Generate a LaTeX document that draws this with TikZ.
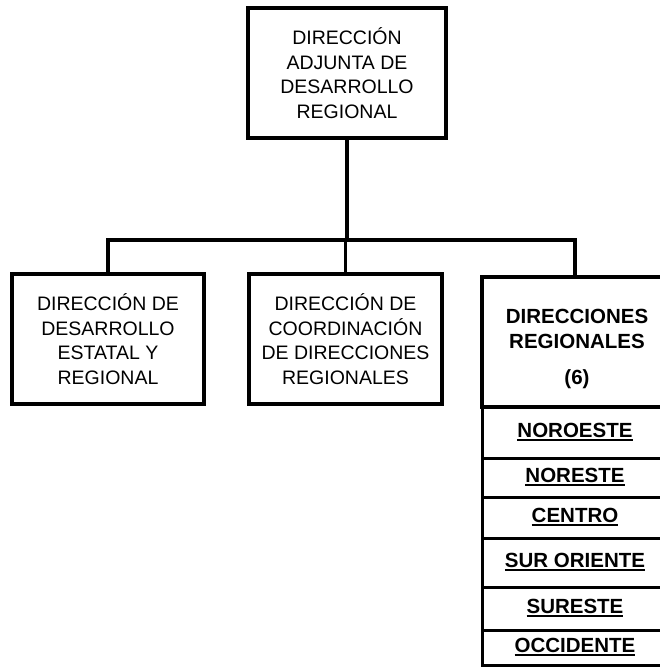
\documentclass[tikz,border=0pt]{standalone}
\usepackage{fontspec}
\setmainfont{Liberation Sans}
\usetikzlibrary{positioning}

% underlined bold name of a region
\newcommand{\subr}[1]{\setbox0\hbox{#1}\rlap{\rule[-3.5pt]{\wd0}{2.5pt}}\box0}

\begin{document}
\begin{tikzpicture}[x=1pt,y=-1pt,
  caja/.style={draw,line width=4pt,minimum width=#1,minimum height=130pt,inner sep=0pt,align=center,font=\fontsize{19.5}{24.5}\selectfont},
  fila/.style={draw,line width=3pt,minimum width=186pt,inner sep=0pt,outer sep=0pt,font=\fontsize{20.5}{24.5}\selectfont\bfseries},
  conector/.style={line width=3.5pt}]
\useasboundingbox (0,0) rectangle (660,667);
\node[caja=198pt] (adjunta) at (347,73) {DIRECCIÓN\\ADJUNTA DE\\DESARROLLO\\REGIONAL};
\node[caja=192pt] (estatal) at (108,339) {DIRECCIÓN DE\\DESARROLLO\\ESTATAL Y\\REGIONAL};
\node[caja=193pt] (coordinacion) at (345.5,339) {DIRECCIÓN DE\\COORDINACIÓN\\DE DIRECCIONES\\REGIONALES};
\node[caja=186pt,outer sep=0pt,alias=r0] (dirreg) at (575,342) {};
\node[align=center,font=\fontsize{20.5}{25}\selectfont\bfseries] (dirregtxt) at (577,349) {DIRECCIONES\\REGIONALES\\[11pt](6)};
\foreach \alto/\nombre [count=\i, remember=\i as \j (initially 0)] in
  {51/NOROESTE,39/NORESTE,41/CENTRO,49/SUR ORIENTE,43/SURESTE,35/OCCIDENTE}
  \node[fila,minimum height=\alto pt,below=0pt of r\j] (r\i) {\subr{\nombre}};
% connectors
\coordinate (bus) at (348,240);
\draw[conector] (adjunta.south) -- (adjunta.south |- bus);
\draw[conector] (estatal.north) -- (estatal.north |- bus) -- (dirreg.north |- bus) -- (dirreg.north);
\draw[conector] (coordinacion.north) -- (coordinacion.north |- bus);
\end{tikzpicture}
\end{document}
